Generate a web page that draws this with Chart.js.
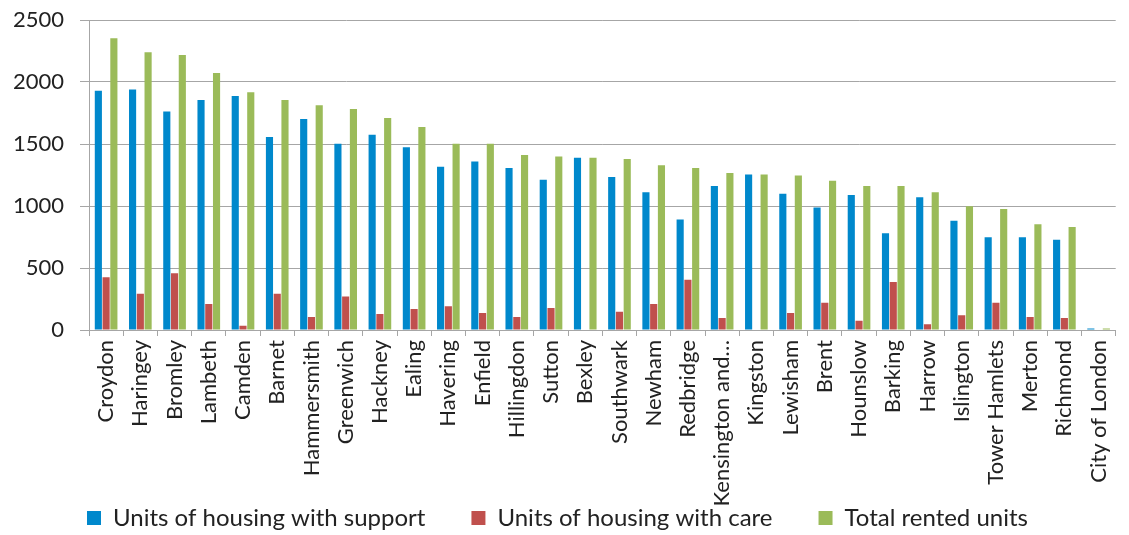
<!DOCTYPE html>
<html>
<head>
<meta charset="utf-8">
<script src="https://cdn.jsdelivr.net/npm/chart.js@4"></script>
<style>
  html, body { margin: 0; padding: 0; background: #fff; }
  #wrap { width: 1129px; height: 535px; position: relative; }
</style>
</head>
<body>
<div id="wrap"><canvas id="chart"></canvas></div>
<script>
// boroughs, in the order shown
const boroughs = ['Croydon', 'Haringey', 'Bromley', 'Lambeth', 'Camden', 'Barnet', 'Hammersmith',
  'Greenwich', 'Hackney', 'Ealing', 'Havering', 'Enfield', 'Hillingdon', 'Sutton', 'Bexley',
  'Southwark', 'Newham', 'Redbridge', 'Kensington and…', 'Kingston', 'Lewisham', 'Brent',
  'Hounslow', 'Barking', 'Harrow', 'Islington', 'Tower Hamlets', 'Merton', 'Richmond', 'City of London'];

// series values
const withSupport = [1930, 1940, 1763, 1855, 1887, 1556, 1702, 1503, 1575, 1473, 1317, 1358, 1306, 1212, 1390,
  1234, 1110, 892, 1161, 1255, 1099, 987, 1089, 780, 1070, 882, 747, 747, 728, 13];
const withCare = [425, 293, 457, 210, 35, 293, 105, 271, 129, 169, 191, 137, 105, 177, 0,
  148, 210, 406, 97, 0, 137, 220, 75, 387, 46, 118, 220, 105, 97, 0];
const totalRented = [2352, 2239, 2218, 2073, 1917, 1855, 1812, 1782, 1710, 1637, 1503, 1503, 1411, 1400, 1390,
  1379, 1328, 1306, 1266, 1255, 1245, 1204, 1161, 1161, 1110, 997, 976, 852, 831, 13];

const yTicks = [0, 500, 1000, 1500, 2000, 2500];

const gridColor = '#a6a6a6';
const textColor = '#222';

// big legend padding spreads the items apart; keep the box short and move the text into place
const legendSpacing = {
  id: 'legendSpacing',
  afterInit(chart) {
    const legend = chart.legend;
    const origFit = legend.fit;
    const origDraw = legend.draw;
    legend.fit = function () {
      origFit.call(this);
      this.height = 25;
    };
    legend.draw = function () {
      const { top, left, right } = this;
      this.top = top - 50;
      this.left = left - 11;
      this.right = right - 11;
      origDraw.call(this);
      Object.assign(this, { top, left, right });
    };
  }
};

new Chart(document.getElementById('chart'), {
  type: 'bar',
  data: {
    labels: boroughs,
    datasets: [
      { label: 'Units of housing with support', data: withSupport, backgroundColor: '#0088cc' },
      { label: 'Units of housing with care', data: withCare, backgroundColor: '#c0504d' },
      { label: 'Total rented units', data: totalRented, backgroundColor: '#9bbb59' }
    ]
  },
  options: {
    responsive: true,
    maintainAspectRatio: false,
    animation: false,
    categoryPercentage: 0.68,
    barPercentage: 0.92,
    layout: { padding: { top: 20, right: 0, left: 8, bottom: 0 } },
    scales: {
      x: {
        grid: { display: true, drawOnChartArea: false, tickLength: 6, color: gridColor },
        border: { color: gridColor },
        ticks: {
          autoSkip: false,
          maxRotation: 90,
          minRotation: 90,
          color: textColor,
          font: { family: 'Lato', size: 22 },
          padding: 4
        },
        afterFit: scale => { scale.height = 180; }
      },
      y: {
        min: 0,
        max: 2500,
        afterBuildTicks: scale => { scale.ticks = yTicks.map(v => ({ value: v })); },
        grid: { color: gridColor, tickLength: 9 },
        border: { color: gridColor },
        ticks: {
          color: textColor,
          font: { family: 'Lato', size: 22 },
          padding: 16,
          callback: v => String(v)
        },
        afterFit: scale => {
          scale.width = 81;
          scale.paddingTop = 0;
        }
      }
    },
    plugins: {
      legend: {
        position: 'bottom',
        labels: {
          color: textColor,
          font: { family: 'Lato', size: 24 },
          boxWidth: 14,
          boxHeight: 14,
          padding: 46
        }
      },
      tooltip: { enabled: false }
    }
  },
  plugins: [legendSpacing]
});
</script>
</body>
</html>
